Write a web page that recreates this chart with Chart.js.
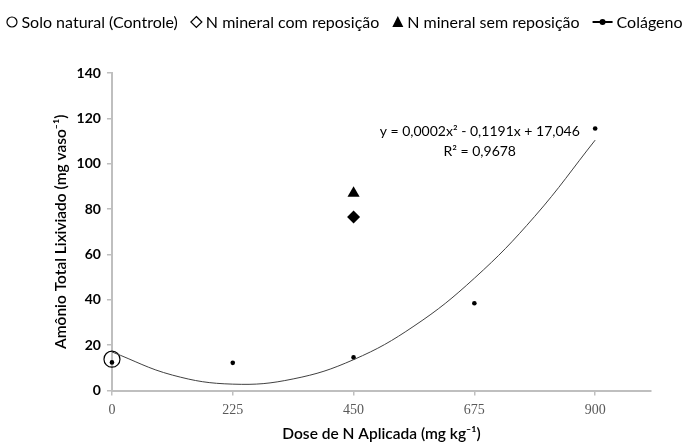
<!DOCTYPE html>
<html>
<head>
<meta charset="utf-8">
<script src="https://cdn.jsdelivr.net/npm/chart.js@4/dist/chart.umd.min.js"></script>
<style>
  html, body { margin: 0; padding: 0; background: #fff; }
  #wrap { width: 689px; height: 444px; }
</style>
</head>
<body>
<div id="wrap"><canvas id="chart" width="689" height="444"></canvas></div>
<script>
// values
var doses = [0, 225, 450, 675, 900];
var colageno = [12.4, 12.2, 14.6, 38.5, 115.5];
var soloNatural = [13.8];          // at dose 0
var mineralCom = [76.5];           // at dose 450
var mineralSem = [87];             // at dose 450
var trendX = [0, 112.5, 225, 337.5, 450, 562.5, 675, 787.5, 900];
var trendY = [17.0, 6.8, 2.8, 5.1, 13.6, 28.4, 49.5, 76.8, 110.4];
var xTicks = [0, 225, 450, 675, 900];
var legendNames = ['Solo natural (Controle)', 'N mineral com reposição', 'N mineral sem reposição', 'Colágeno'];
var eqLines = ['y = 0,0002x² - 0,1191x + 17,046', 'R² = 0,9678'];

var FONT = 'Lato, "Open Sans", sans-serif';

function pts(xs, ys) {
    var out = [];
    for (var i = 0; i < ys.length; i++) out.push({ x: xs[i], y: ys[i] });
    return out;
}

// legend drawn by hand so the symbols look like the original
var legendPlugin = {
    id: 'topLegend',
    afterDraw: function(chart) {
        var ctx = chart.ctx;
        ctx.save();
        ctx.font = '16px ' + FONT;
        ctx.textBaseline = 'middle';
        ctx.fillStyle = '#000';
        ctx.strokeStyle = '#000';
        var y = 22;
        var symW = [11, 11, 11, 20];
        var gap = 13;
        var total = 0;
        for (var i = 0; i < legendNames.length; i++) {
            total += symW[i] + 4 + ctx.measureText(legendNames[i]).width;
            if (i < legendNames.length - 1) total += gap;
        }
        var x = (chart.width - total) / 2;
        for (var i = 0; i < legendNames.length; i++) {
            var cx = x + symW[i] / 2;
            ctx.lineWidth = 1.2;
            ctx.beginPath();
            if (i === 0) {
                ctx.arc(cx, y, 5, 0, Math.PI * 2);
                ctx.stroke();
            } else if (i === 1) {
                ctx.moveTo(cx, y - 5.5); ctx.lineTo(cx + 5.5, y); ctx.lineTo(cx, y + 5.5); ctx.lineTo(cx - 5.5, y);
                ctx.closePath();
                ctx.stroke();
            } else if (i === 2) {
                ctx.moveTo(cx, y - 6); ctx.lineTo(cx + 5.5, y + 5); ctx.lineTo(cx - 5.5, y + 5);
                ctx.closePath();
                ctx.fill();
            } else {
                ctx.lineWidth = 2;
                ctx.moveTo(x, y); ctx.lineTo(x + symW[i], y);
                ctx.stroke();
                ctx.beginPath();
                ctx.arc(cx, y, 3, 0, Math.PI * 2);
                ctx.fill();
            }
            x += symW[i] + 4;
            ctx.fillText(legendNames[i], x, y + 1);
            x += ctx.measureText(legendNames[i]).width + gap;
        }
        ctx.restore();
    }
};

var equationPlugin = {
    id: 'equation',
    afterDatasetsDraw: function(chart) {
        var ctx = chart.ctx;
        var xs = chart.scales.x, ys = chart.scales.y;
        ctx.save();
        ctx.font = '14px ' + FONT;
        ctx.fillStyle = '#000';
        ctx.textAlign = 'center';
        ctx.textBaseline = 'middle';
        ctx.fillText(eqLines[0], xs.getPixelForValue(685), ys.getPixelForValue(114.1));
        ctx.fillText(eqLines[1], xs.getPixelForValue(685), ys.getPixelForValue(105.2));
        ctx.restore();
    }
};

var ctx = document.getElementById('chart').getContext('2d');
var chart = new Chart(ctx, {
    type: 'scatter',
    data: {
        datasets: [
            {
                label: 'Tendência',
                data: pts(trendX, trendY),
                showLine: true,
                borderColor: '#404040',
                borderWidth: 1,
                tension: 0.4,
                pointRadius: 0,
                fill: false
            },
            {
                label: legendNames[3],
                data: pts(doses, colageno),
                pointStyle: 'circle',
                pointRadius: 2.3,
                backgroundColor: '#000',
                borderColor: '#000',
                borderWidth: 0,
                clip: false
            },
            {
                label: legendNames[0],
                data: pts([0], soloNatural),
                pointStyle: 'circle',
                pointRadius: 8,
                backgroundColor: 'rgba(0,0,0,0)',
                borderColor: '#000',
                borderWidth: 1.2,
                clip: false
            },
            {
                label: legendNames[1],
                data: pts([450], mineralCom),
                pointStyle: 'rectRot',
                pointRadius: 6.5,
                backgroundColor: '#000',
                borderColor: '#000',
                borderWidth: 0
            },
            {
                label: legendNames[2],
                data: pts([450], mineralSem),
                pointStyle: 'triangle',
                pointRadius: 7,
                backgroundColor: '#000',
                borderColor: '#000',
                borderWidth: 0
            }
        ]
    },
    options: {
        responsive: false,
        animation: false,
        layout: { padding: { top: 73, right: 38, left: 52, bottom: 2 } },
        plugins: {
            legend: { display: false },
            tooltip: { enabled: false }
        },
        scales: {
            x: {
                type: 'linear',
                min: 0,
                max: 1004,
                afterBuildTicks: function(axis) {
                    axis.ticks = xTicks.map(function(v) { return { value: v }; });
                },
                grid: { drawOnChartArea: false, drawTicks: true, tickLength: 5, color: '#bfbfbf', lineWidth: 1.5 },
                border: { color: '#bfbfbf', width: 2 },
                ticks: { color: '#595959', padding: 8, font: { family: '"Liberation Serif", serif', size: 14, lineHeight: 1 } },
                title: {
                    display: true,
                    text: 'Dose de N Aplicada (mg kg⁻¹)',
                    color: '#000',
                    font: { family: FONT, size: 15.5, weight: '600', lineHeight: 1 },
                    padding: { top: 1, bottom: 0 }
                }
            },
            y: {
                min: 0,
                max: 140,
                ticks: { stepSize: 20, color: '#000', padding: 6, font: { family: FONT, size: 14, weight: 'bold' } },
                grid: { drawOnChartArea: false, drawTicks: true, tickLength: 5, color: '#bfbfbf', lineWidth: 1.5 },
                border: { color: '#bfbfbf', width: 2 },
                title: {
                    display: true,
                    text: 'Amônio Total Lixiviado (mg vaso⁻¹)',
                    color: '#000',
                    font: { family: FONT, size: 15.5, weight: '600' },
                    padding: { top: 0, bottom: 0 }
                }
            }
        }
    },
    plugins: [legendPlugin, equationPlugin]
});
</script>
</body>
</html>
